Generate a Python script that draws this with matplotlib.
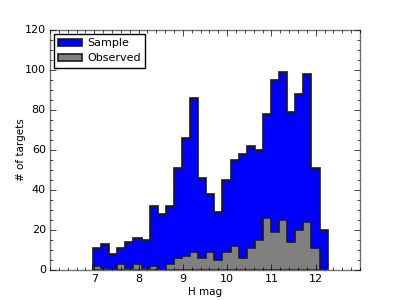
import matplotlib
matplotlib.use("Agg")
import matplotlib.pyplot as plt
from matplotlib.ticker import MultipleLocator
import numpy as np

# bin edges of the H-band magnitude histogram
bin_lo = 6.97
bin_hi = 12.27
n_bins = 29

sample_counts = [11, 13, 8, 11, 14, 16, 15, 32, 28, 32, 51, 66, 86, 46, 38,
                 29, 45, 55, 58, 62, 60, 78, 95, 99, 79, 88, 98, 51, 20]
observed_counts = [2, 1, 0, 3, 1, 3, 1, 2, 0, 3, 6, 7, 9, 6, 9,
                   5, 9, 12, 6, 11, 15, 26, 19, 25, 14, 20, 24, 11, 0]

plt.style.use('classic')
plt.rcParams['font.size'] = 8

edges = np.linspace(bin_lo, bin_hi, n_bins + 1)
centers = 0.5 * (edges[:-1] + edges[1:])

fig, ax = plt.subplots(figsize=(4, 3), dpi=100)
fig.patch.set_facecolor('white')

ax.hist(centers, bins=edges, weights=sample_counts, histtype='stepfilled',
        color='b', edgecolor='#1a1a1a', linewidth=1.2, label='Sample')
ax.hist(centers, bins=edges, weights=observed_counts, histtype='stepfilled',
        color='0.5', edgecolor='#1a1a1a', linewidth=1.2, label='Observed')

ax.set_xlim(6, 13)
ax.set_ylim(0, 120)
ax.xaxis.set_major_locator(MultipleLocator(1))
ax.xaxis.set_minor_locator(MultipleLocator(0.2))
ax.yaxis.set_major_locator(MultipleLocator(20))
ax.yaxis.set_minor_locator(MultipleLocator(5))
ax.set_xticks([7, 8, 9, 10, 11, 12])
ax.tick_params(which='major', labelsize=8, pad=3, length=4)
ax.tick_params(which='minor', length=2)
for sp in ax.spines.values():
    sp.set_color('0.45')

ax.set_xlabel('H mag', fontsize=7.5, labelpad=2)
ax.set_ylabel('# of targets', fontsize=7.5, labelpad=-1)
ax.legend(loc='upper left', fontsize=8, handlelength=2.1, borderaxespad=0.35,
          labelspacing=0.45, borderpad=0.4, handletextpad=0.5)

fig.subplots_adjust(left=0.125, right=0.9, bottom=0.1, top=0.9)
fig.savefig('out.png', dpi=100, facecolor='white')
